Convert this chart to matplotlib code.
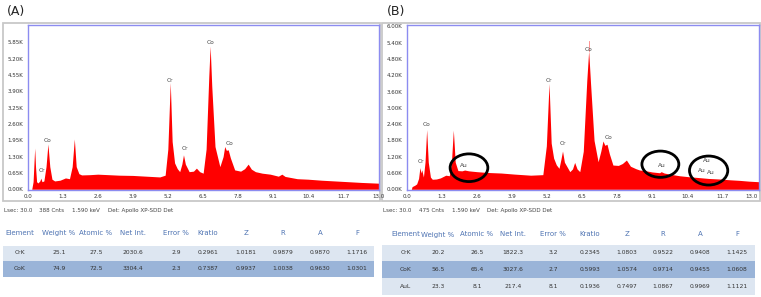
import matplotlib
matplotlib.use('Agg')
import matplotlib.pyplot as plt
from matplotlib.patches import Rectangle, Ellipse

# ---------------- data ----------------
A_keV = [0.15, 0.20, 0.24, 0.26, 0.29, 0.33, 0.38, 0.45, 0.49, 0.53, 0.60, 0.68, 0.75, 0.82, 0.90,
         1.00, 1.20, 1.40, 1.55, 1.65, 1.73, 1.80, 1.90, 2.00, 2.30, 2.60, 3.00, 3.40, 3.90, 4.40,
         4.90, 5.10, 5.20, 5.29, 5.36, 5.45, 5.55, 5.64, 5.72, 5.78, 5.85, 5.99, 6.15, 6.26, 6.38,
         6.51, 6.62, 6.72, 6.77, 6.83, 6.95, 7.13, 7.25, 7.31, 7.37, 7.44, 7.52, 7.68, 7.90, 8.05,
         8.18, 8.30, 8.45, 8.70, 9.00, 9.30, 9.43, 9.55, 10.0, 10.4, 10.9, 11.4, 11.9, 12.4, 13.05]
A_counts = [0, 300, 1200, 1640, 900, 300, 250, 330, 440, 300, 330, 900, 1800, 900, 400,
            330, 360, 450, 420, 900, 2000, 900, 620, 570, 580, 600, 580, 560, 550, 520,
            490, 560, 1600, 4250, 1900, 1050, 820, 700, 1000, 1370, 1000, 700, 720, 840, 700,
            640, 1600, 4500, 5700, 4100, 1700, 900, 1300, 1700, 1550, 1570, 1250, 770, 720, 820,
            1000, 800, 700, 640, 600, 520, 600, 510, 420, 400, 360, 330, 300, 270, 240]

B_keV = [0.17, 0.20, 0.30, 0.37, 0.44, 0.49, 0.53, 0.56, 0.62, 0.68, 0.74, 0.80, 0.88, 0.95,
         1.10, 1.25, 1.45, 1.58, 1.66, 1.73, 1.80, 1.90, 2.05, 2.15, 2.30, 2.60, 3.00, 3.50,
         4.00, 4.60, 5.05, 5.18, 5.28, 5.36, 5.45, 5.55, 5.65, 5.72, 5.78, 5.85, 6.05, 6.15,
         6.23, 6.32, 6.42, 6.55, 6.68, 6.75, 6.82, 6.95, 7.10, 7.20, 7.28, 7.35, 7.43, 7.52,
         7.65, 7.85, 8.00, 8.15, 8.30, 8.50, 8.64, 8.83, 9.10, 9.38, 9.44, 9.55, 9.80, 10.12,
         10.5, 10.86, 11.2, 11.6, 12.0, 12.34, 12.7, 13.05]
B_counts = [0, 100, 150, 200, 400, 800, 600, 720, 450, 1000, 2200, 1000, 450, 370,
            380, 420, 520, 500, 1000, 2180, 1000, 690, 680, 710, 680, 650, 620, 600,
            560, 520, 540, 1600, 3900, 1700, 1150, 900, 773, 1100, 1410, 1000, 650, 750,
            990, 750, 650, 1400, 4000, 5100, 3900, 1800, 1015, 1400, 1780, 1620, 1660, 1300,
            894, 880, 950, 1078, 850, 760, 710, 690, 640, 610, 650, 600, 550, 500,
            460, 430, 400, 380, 350, 330, 300, 280]

x_ticks = [0.0, 1.3, 2.6, 3.9, 5.2, 6.5, 7.8, 9.1, 10.4, 11.7, 13.0]
A_yticks = [0, 650, 1300, 1950, 2600, 3250, 3900, 4550, 5200, 5850]
B_yticks = [0, 600, 1200, 1800, 2400, 3000, 3600, 4200, 4800, 5400, 6000]

A_peak_labels = [("Cr", 0.53, 730), ("Co", 0.75, 1930), ("Cr", 5.29, 4330),
                 ("Co", 6.77, 5830), ("Cr", 5.83, 1610), ("Co", 7.50, 1840)]
B_peak_labels = [("Cr", 0.53, 1040), ("Co", 0.75, 2370), ("Cr", 5.28, 4020),
                 ("Co", 6.75, 5160), ("Cr", 5.80, 1670), ("Co", 7.47, 1900),
                 ("Au", 2.13, 870), ("Au", 9.48, 895), ("Au", 11.15, 1050),
                 ("Au", 10.93, 685), ("Au", 11.30, 625)]
B_circles = [(2.31, 795, 1.40, 1020), (9.41, 924, 1.37, 968), (11.2, 692, 1.42, 1067)]

A_footer = ["Lsec: 30.0", "388 Cnts", "1.590 keV", "Det: Apollo XP-SDD Det"]
B_footer = ["Lsec: 30.0", "475 Cnts", "1.590 keV", "Det: Apollo XP-SDD Det"]

table_cols = ["Element", "Weight %", "Atomic %", "Net Int.", "Error %", "Kratio", "Z", "R", "A", "F"]
A_rows = [["CrK", "25.1", "27.5", "2030.6", "2.9", "0.2961", "1.0181", "0.9879", "0.9870", "1.1716"],
          ["CoK", "74.9", "72.5", "3304.4", "2.3", "0.7387", "0.9937", "1.0038", "0.9630", "1.0301"]]
B_rows = [["CrK", "20.2", "26.5", "1822.3", "3.2", "0.2345", "1.0803", "0.9522", "0.9408", "1.1425"],
          ["CoK", "56.5", "65.4", "3027.6", "2.7", "0.5993", "1.0574", "0.9714", "0.9455", "1.0608"],
          ["AuL", "23.3", "8.1", "217.4", "8.1", "0.1936", "0.7497", "1.0867", "0.9969", "1.1121"]]

# ---------------- figure ----------------
W, H = 761, 297
fig = plt.figure(figsize=(W / 100, H / 100), dpi=100)

overlay = fig.add_axes([0, 0, 1, 1], zorder=0)
overlay.set_xlim(0, W)
overlay.set_ylim(H, 0)
overlay.axis('off')


def ax_px(x0, y0, x1, y1):
    return fig.add_axes([x0 / W, 1 - y1 / H, (x1 - x0) / W, (y1 - y0) / H], zorder=2)


SPINE = '#8c8cf0'
TXT = '#333333'
HDR = '#4f74b3'
ROW_LIGHT = '#dde6f1'
ROW_DARK = '#9ab4d8'


def spectrum(ax, keV, counts, yticks, ylim, labels):
    ax.fill_between(keV, counts, 0, color='#ff0000', lw=0)
    ax.set_xlim(0, 13.05)
    ax.set_ylim(*ylim)
    ax.set_xticks(x_ticks)
    ax.set_xticklabels([f"{v:.1f}" for v in x_ticks])
    ax.set_yticks(yticks)
    ax.set_yticklabels([f"{v / 1000:.2f}K" for v in yticks])
    ax.tick_params(length=0, labelsize=4, colors=TXT, pad=3)
    for s in ax.spines.values():
        s.set_color(SPINE)
        s.set_linewidth(1.0)
    for t, x, y in labels:
        ax.text(x, y, t, fontsize=4.2, color='#444444', ha='center', va='center')


# frames
overlay.add_patch(Rectangle((3, 23), 377, 178, fill=False, ec='#c8c8c8', lw=1.3))
overlay.add_patch(Rectangle((382, 23), 378, 178, fill=False, ec='#c8c8c8', lw=1.3))

axA = ax_px(27.7, 25, 379.4, 190)
spectrum(axA, A_keV, A_counts, A_yticks, (-30, 6540), A_peak_labels)

axB = ax_px(406.7, 25, 758.5, 190)
spectrum(axB, B_keV, B_counts, B_yticks, (-25, 6050), B_peak_labels)
axB.get_xticklabels()[-1].set_horizontalalignment('right')
axB.plot([6.75, 6.75], [5100, 5450], color='#ff8080', lw=0.6)
for cx, cy, w, h in B_circles:
    axB.add_patch(Ellipse((cx, cy), w, h, fill=False, ec='black', lw=2.0))

# panel labels
overlay.text(7, 12, "(A)", fontsize=9, color='#222222', ha='left', va='center')
overlay.text(387, 12, "(B)", fontsize=9, color='#222222', ha='left', va='center')

# footers
for xs, texts in [([4, 39, 72, 108], A_footer), ([383, 419, 452, 487], B_footer)]:
    for x, t in zip(xs, texts):
        overlay.text(x, 210.5, t, fontsize=4.1, color='#444444', ha='left', va='center')

# tables
A_colx = [20, 59, 96, 133, 176, 208, 246, 283, 320, 357]
B_colx = [406, 438, 477, 513, 553, 590, 627, 663, 700, 737]


def table(colx, x0, x1, header_y, row_bounds, rows):
    for cx, c in zip(colx, table_cols):
        overlay.text(cx, header_y, c, fontsize=5, color=HDR, ha='center', va='center')
    for i, ((y0, y1), row) in enumerate(zip(row_bounds, rows)):
        overlay.add_patch(Rectangle((x0, y0), x1 - x0, y1 - y0,
                                    color=ROW_DARK if i % 2 else ROW_LIGHT, lw=0))
        for cx, v in zip(colx, row):
            overlay.text(cx, (y0 + y1) / 2, v, fontsize=4.3, color=TXT, ha='center', va='center')


table(A_colx, 3, 374, 233, [(245.5, 260.5), (260.5, 276.5)], A_rows)
table(B_colx, 382, 755, 234.5, [(245, 261), (261, 278), (278, 295)], B_rows)

fig.savefig('out.png', dpi=100)
